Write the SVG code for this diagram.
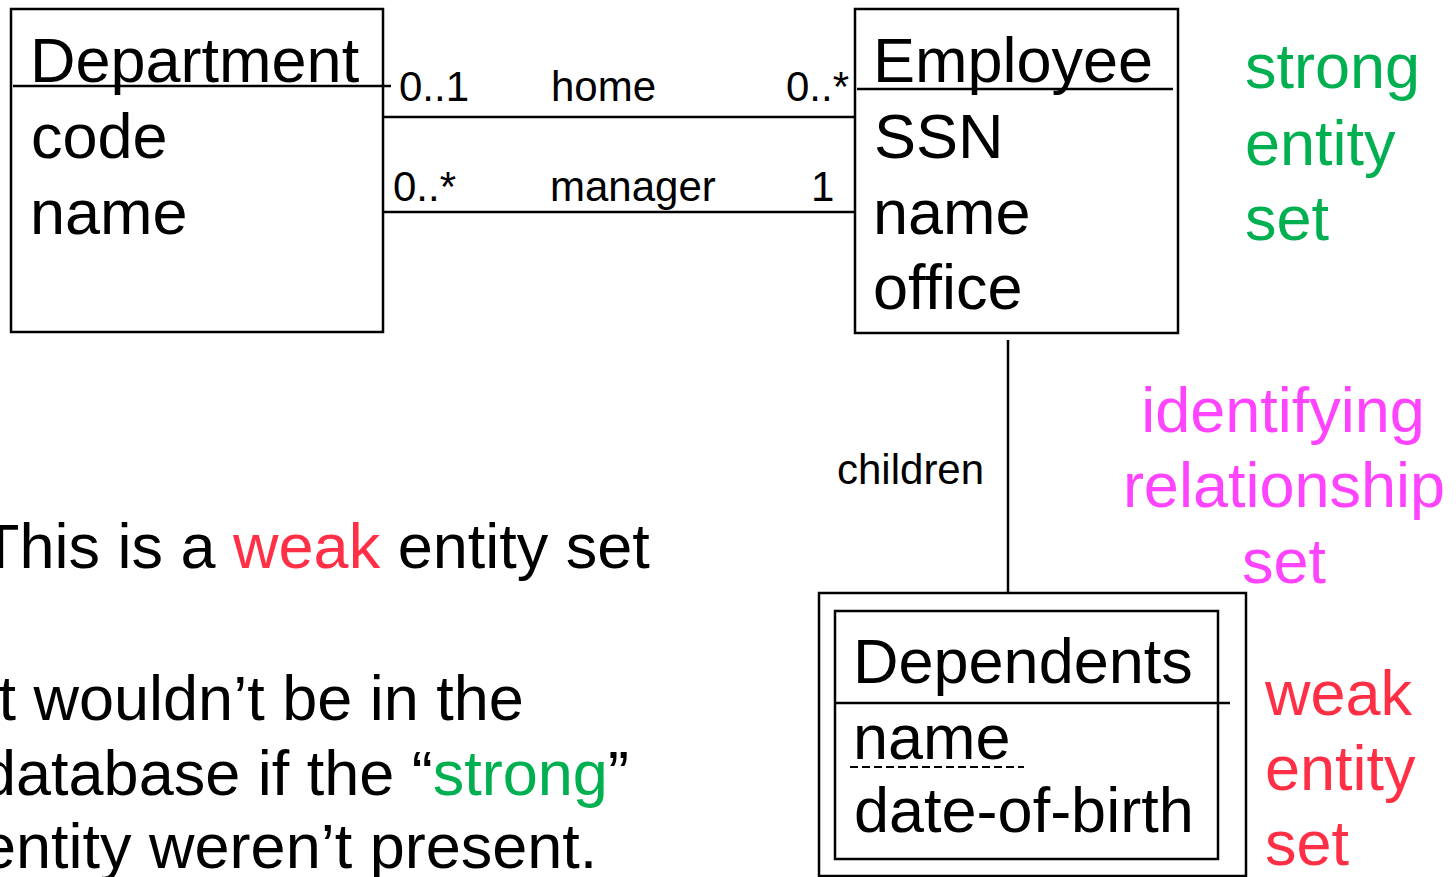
<svg xmlns="http://www.w3.org/2000/svg" width="1456" height="877" viewBox="0 0 1456 877">
  <style>
    text { font-family: "Liberation Sans", Arial, sans-serif; fill: #000; }
    .big { font-size: 63px; }
    .lbl { font-size: 42px; }
    .note { font-size: 63px; }
    .box { fill: none; stroke: #000; stroke-width: 2.5; }
    .rule { stroke: #000; stroke-width: 2.5; }
    .conn { stroke: #000; stroke-width: 2.5; fill: none; }
    .green { fill: #00b050; }
    .magenta { fill: #ff44ff; }
    .red { fill: #ff3045; }
  </style>
  <rect width="1456" height="877" fill="#fff"/>

  <!-- Department entity -->
  <g id="department">
    <rect class="box" x="11" y="9" width="372" height="323"/>
    <line class="rule" x1="13" y1="86" x2="391" y2="86"/>
    <text class="big" x="30" y="82">Department</text>
    <text class="big" x="31" y="158">code</text>
    <text class="big" x="30" y="234">name</text>
  </g>

  <!-- Employee entity -->
  <g id="employee">
    <rect class="box" x="855" y="9" width="323" height="324"/>
    <line class="rule" x1="857" y1="89" x2="1173" y2="89"/>
    <text class="big" x="873" y="82">Employee</text>
    <text class="big" x="874" y="158">SSN</text>
    <text class="big" x="873" y="234">name</text>
    <text class="big" x="873" y="309">office</text>
  </g>

  <!-- Dependents weak entity (double border) -->
  <g id="dependents">
    <rect class="box" x="819" y="593" width="427" height="283"/>
    <rect class="box" x="835" y="611" width="383" height="248"/>
    <line class="rule" x1="835" y1="703" x2="1230" y2="703"/>
    <text class="big" x="853" y="683">Dependents</text>
    <text class="big" x="853" y="759">name</text>
    <line x1="850" y1="767" x2="1024" y2="767" stroke="#000" stroke-width="2" stroke-dasharray="8 4"/>
    <text class="big" x="854" y="832">date-of-birth</text>
  </g>

  <!-- Relationships -->
  <g id="connectors">
    <line class="conn" x1="384" y1="117" x2="856" y2="117"/>
    <line class="conn" x1="384" y1="212" x2="856" y2="212"/>
    <line class="conn" x1="1008" y1="340" x2="1008" y2="592"/>
    <text class="lbl" x="399" y="101">0..1</text>
    <text class="lbl" x="551" y="101">home</text>
    <text class="lbl" x="786" y="101">0..*</text>
    <text class="lbl" x="393" y="201">0..*</text>
    <text class="lbl" x="550" y="201">manager</text>
    <text class="lbl" x="811" y="201">1</text>
    <text class="lbl" x="837" y="484">children</text>
  </g>

  <!-- Side annotations -->
  <g id="strong-label">
    <text class="big green" x="1245" y="88">strong</text>
    <text class="big green" x="1245" y="165">entity</text>
    <text class="big green" x="1245" y="240">set</text>
  </g>
  <g id="identifying-label">
    <text class="big magenta" x="1283" y="432" text-anchor="middle">identifying</text>
    <text class="big magenta" x="1284" y="507" text-anchor="middle">relationship</text>
    <text class="big magenta" x="1284" y="583" text-anchor="middle">set</text>
  </g>
  <g id="weak-label">
    <text class="big red" x="1265" y="715">weak</text>
    <text class="big red" x="1265" y="790">entity</text>
    <text class="big red" x="1265" y="865">set</text>
  </g>

  <!-- Explanatory note -->
  <g id="note">
    <text class="note" x="-19" y="568">This is a <tspan class="red">weak</tspan> entity set</text>
    <text class="note" x="-19" y="720">It wouldn’t be in the</text>
    <text class="note" x="-19" y="795">database if the “<tspan class="green">strong</tspan>”</text>
    <text class="note" x="-19" y="868">entity weren’t present.</text>
  </g>
</svg>
